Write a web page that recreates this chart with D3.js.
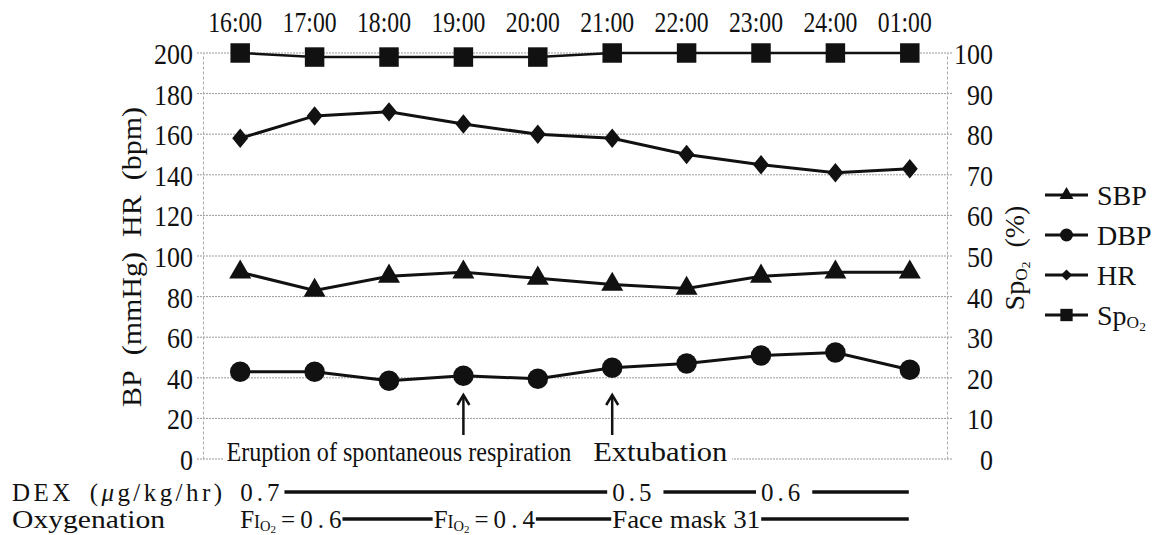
<!DOCTYPE html>
<html>
<head>
<meta charset="utf-8">
<script src="https://cdn.jsdelivr.net/npm/d3@7"></script>
<style>
  body { margin: 0; background: #fff; }
  svg { font-family: "Liberation Serif", "Times New Roman", serif; }
  text { fill: #111; }
</style>
</head>
<body>
<svg width="1157" height="535"></svg>
<script>
// data
const times = ["16:00","17:00","18:00","19:00","20:00","21:00","22:00","23:00","24:00","01:00"]
const sbp  = [92, 83, 90, 92, 89, 86, 84, 90, 92, 92]
const dbp  = [43, 43, 38.5, 41, 39.5, 45, 47, 51, 52.5, 44]
const hr   = [158, 169, 171, 165, 160, 158, 150, 145, 141, 143]
const spo2 = [100, 99, 99, 99, 99, 100, 100, 100, 100, 100]
const leftTicks  = [0, 20, 40, 60, 80, 100, 120, 140, 160, 180, 200]
const rightTicks = [0, 10, 20, 30, 40, 50, 60, 70, 80, 90, 100]
const events     = [{t: "19:00", label: "Eruption of spontaneous respiration"}, {t: "21:00", label: "Extubation"}]
const dexLabels  = ["0.7", "0.5", "0.6"]
const dexStart   = [0, 5, 7]        // position on the time axis (index)
const oxyLabels  = ["FIO2=0.6", "FIO2=0.4", "Face mask 31"]
const oxyStart   = [0, 2.6, 5]

const serif = "'Liberation Serif', 'Times New Roman', serif"

margin = ({top: 53, right: 210, bottom: 76, left: 203})
var width = 1157, height = 535

var svg = d3.select("svg")
var g = svg.append("g")

x = d3.scaleBand()
  .domain(times)
  .range([margin.left, width - margin.right])
  .paddingInner(0).paddingOuter(0)

// fractional index -> pixel
xi = i => x(times[0]) + x.bandwidth() / 2 + i * x.step()
xc = t => x(t) + x.bandwidth() / 2

y = d3.scaleLinear().domain([0, 200]).range([height - margin.bottom, margin.top])
y2 = d3.scaleLinear().domain([0, 100]).range([height - margin.bottom, margin.top])

// gridlines
g.append("g").selectAll("line")
  .data(leftTicks)
  .join("line")
  .attr("x1", margin.left - 6).attr("x2", width - margin.right + 6)
  .attr("y1", d => y(d)).attr("y2", d => y(d))
  .attr("stroke", "#999").attr("stroke-width", 1).attr("stroke-dasharray", "2,1")

// condensed digits like the printed figure
function digits(sel) {
  sel.style("font-size", "29px")
    .attr("textLength", function () { return this.textContent.length * 13 })
    .attr("lengthAdjust", "spacingAndGlyphs")
}

// left axis
var la = g.append("g")
  .attr("transform", `translate(${margin.left},0)`)
  .call(d3.axisLeft(y).tickValues(leftTicks).tickSize(0).tickPadding(10))
la.attr("font-family", null)
la.select(".domain").attr("stroke", "#aaa").attr("stroke-dasharray", "3,2")
la.selectAll("text").attr("dy", "0.36em").call(digits)

// right axis
var ra = g.append("g")
  .attr("transform", `translate(${width - margin.right},0)`)
  .call(d3.axisRight(y2).tickValues(rightTicks).tickSize(0).tickPadding(8))
ra.attr("font-family", null)
ra.select(".domain").attr("stroke", "#aaa").attr("stroke-dasharray", "3,2")
ra.selectAll("text").attr("dy", "0.36em")
  .attr("text-anchor", "end").attr("x", 46).call(digits)

// top time axis
var ta = g.append("g")
  .attr("transform", "translate(-5,35)")
  .call(d3.axisTop(x).tickSize(0).tickPadding(3))
ta.attr("font-family", null)
ta.select(".domain").remove()
ta.selectAll("text").style("font-size", "29px").attr("textLength", 54).attr("lengthAdjust", "spacingAndGlyphs")

// axis titles
g.append("text")
  .attr("transform", "translate(131,257) rotate(-90)")
  .attr("dy", "0.35em").attr("text-anchor", "middle")
  .style("font-size", "28px")
  .attr("textLength", 300).attr("lengthAdjust", "spacingAndGlyphs")
  .text("BP\u2002(mmHg)\u2002HR\u2002(bpm)")

function spo2Text(sel) {
  sel.append("tspan").text("Sp")
  sel.append("tspan").text("O").style("font-size", "62%").attr("dy", 3)
  sel.append("tspan").text("2").style("font-size", "48%").attr("dy", 3)
}
var rt = g.append("text")
  .attr("transform", "translate(1014,258) rotate(-90)")
  .attr("dy", "0.35em").attr("text-anchor", "middle")
  .style("font-size", "28px")
rt.call(spo2Text)
rt.append("tspan").text("\u2002(%)").attr("dy", -6)

// series
var series = [
  {key: "SBP",  values: sbp,  scale: y,  sym: d3.symbolTriangle, size: 210, lw: 3},
  {key: "DBP",  values: dbp,  scale: y,  sym: d3.symbolCircle,   size: 330, lw: 3},
  {key: "HR",   values: hr,   scale: y,  sym: d3.symbolDiamond2, size: 200, lw: 3},
  {key: "SpO2", values: spo2, scale: y2, sym: d3.symbolSquare,   size: 380, lw: 2.5}
]

series.forEach(s => {
  var line = d3.line().x((d, i) => xi(i)).y(d => s.scale(d))
  g.append("path")
    .datum(s.values)
    .attr("d", line)
    .attr("fill", "none").attr("stroke", "#111").attr("stroke-width", s.lw)
  g.append("g").selectAll("path")
    .data(s.values)
    .join("path")
    .attr("d", d3.symbol().type(s.sym).size(s.size))
    .attr("transform", (d, i) => `translate(${xi(i)},${s.scale(d)})` + (s.key == "HR" ? " scale(0.9,1.1)" : ""))
    .attr("fill", "#111")
})

// legend
var lg = g.append("g").attr("transform", "translate(1045,195)")
var li = lg.selectAll("g").data(series).join("g")
  .attr("transform", (d, i) => `translate(0,${i * 40})`)
li.append("line").attr("x1", 0).attr("x2", 43).attr("stroke", "#111").attr("stroke-width", 3)
li.append("path")
  .attr("d", d => d3.symbol().type(d.sym).size(d.size * 0.4)())
  .attr("transform", "translate(21.5,0)")
  .attr("fill", "#111")
li.each(function (d) {
  var t = d3.select(this).append("text").attr("x", 52).attr("dy", "0.35em").style("font-size", "28px")
  if (d.key == "SpO2") t.call(spo2Text)
  else t.text(d.key)
})

// event annotations
var ev = g.append("g")
ev.append("rect")
  .attr("x", 224).attr("y", y(0) - 20).attr("width", 508).attr("height", 26)
  .attr("fill", "#fff")
ev.append("text")
  .attr("x", xc(events[0].t) + 108).attr("y", y(0) + 2)
  .attr("text-anchor", "end").style("font-size", "27px")
  .attr("textLength", 345).attr("lengthAdjust", "spacingAndGlyphs")
  .text(events[0].label)
ev.append("text")
  .attr("x", xc(events[1].t) - 19).attr("y", y(0) + 2)
  .style("font-size", "28px")
  .attr("textLength", 134).attr("lengthAdjust", "spacingAndGlyphs")
  .text(events[1].label)
events.forEach(e => {
  var ax = xc(e.t)
  ev.append("line").attr("x1", ax).attr("x2", ax).attr("y1", 396).attr("y2", 435)
    .attr("stroke", "#111").attr("stroke-width", 2.5)
  ev.append("path")
    .attr("d", `M${ax - 6},${405} L${ax},${395} L${ax + 6},${405}`)
    .attr("fill", "none").attr("stroke", "#111").attr("stroke-width", 2.5)
})

// bottom rows
g.append("text").attr("x", 12).attr("y", 501).style("font-size", "25px")
  .attr("textLength", 210).attr("lengthAdjust", "spacing")
  .call(t => {
    t.append("tspan").text("DEX\u2002(")
    t.append("tspan").text("\u03bc").style("font-style", "italic")
    t.append("tspan").text("g/kg/hr)")
  })
g.append("text").attr("x", 12).attr("y", 528).style("font-size", "25px")
  .attr("textLength", 153).attr("lengthAdjust", "spacingAndGlyphs")
  .text("Oxygenation")

var endX = xi(times.length - 1) - 1

function segRow(labels, starts, ty, ly, gapA, gapB, render) {
  labels.forEach((lab, i) => {
    var t = g.append("text").attr("x", xi(starts[i])).attr("y", ty).style("font-size", "25px")
    render(t, lab)
    var w = t.node().getComputedTextLength()
    var x1 = xi(starts[i]) + w + (i ? gapA : 1)
    var x2 = i < labels.length - 1 ? xi(starts[i + 1]) - gapB : endX
    g.append("line").attr("x1", x1).attr("x2", x2).attr("y1", ly).attr("y2", ly)
      .attr("stroke", "#111").attr("stroke-width", 3.5)
  })
}

segRow(dexLabels, dexStart, 501, 492, 8, 5, (t, lab) => {
  t.style("letter-spacing", "4px").text(lab)
})

segRow(oxyLabels, oxyStart, 528, 519, 1, 1, (t, lab) => {
  if (lab.startsWith("FIO2")) {
    t.append("tspan").text("F")
    t.append("tspan").text("I").style("font-size", "72%")
    t.append("tspan").text("O").style("font-size", "58%").attr("dy", 3)
    t.append("tspan").text("2").style("font-size", "44%").attr("dy", 2)
    t.append("tspan").text("\u2009=\u2009" + lab.slice(5).split("").join("\u2009")).attr("dy", -5)
  } else {
    t.attr("textLength", 148).attr("lengthAdjust", "spacingAndGlyphs").text(lab)
  }
})

svg.selectAll("text").style("font-family", serif)
</script>
</body>
</html>
